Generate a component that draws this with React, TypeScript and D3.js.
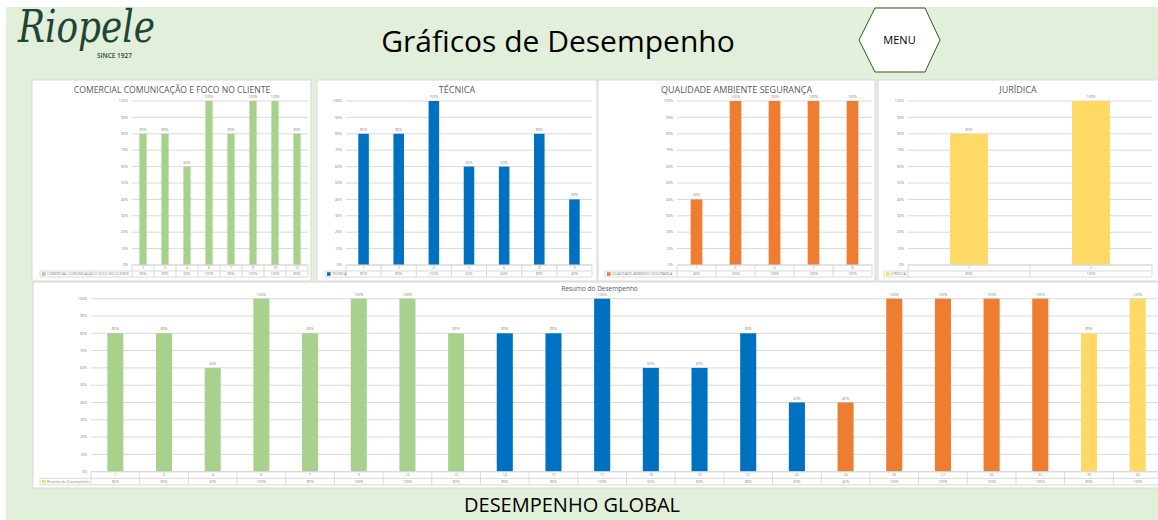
import React from 'react';
import * as d3 from 'd3';

// data
const comercialCats = ['1', '3', '4', '6', '7', '9', '10', '12'];
const comercialVals = [0.8, 0.8, 0.6, 1, 0.8, 1, 1, 0.8];

const tecnicaCats = ['1', '2', '4', '5', '6', '8', '9'];
const tecnicaVals = [0.8, 0.8, 1, 0.6, 0.6, 0.8, 0.4];

const qualidadeCats = ['1', '3', '4', '7', '8'];
const qualidadeVals = [0.4, 1, 1, 1, 1];

const juridicaCats = ['1', '2'];
const juridicaVals = [0.8, 1];

const resumoCats = ['1', '3', '4', '6', '7', '9', '10', '12', '14', '15', '17', '18', '19', '21', '22', '24', '26', '27', '30', '31', '33', '34'];
const resumoVals = [0.8, 0.8, 0.6, 1, 0.8, 1, 1, 0.8, 0.8, 0.8, 1, 0.6, 0.6, 0.8, 0.4, 0.4, 1, 1, 1, 1, 0.8, 1];
const resumoArea = ['com', 'com', 'com', 'com', 'com', 'com', 'com', 'com', 'tec', 'tec', 'tec', 'tec', 'tec', 'tec', 'tec', 'qas', 'qas', 'qas', 'qas', 'qas', 'jur', 'jur'];

const areaColor = {
  com: '#A9D18E',
  tec: '#0070C0',
  qas: '#ED7D31',
  jur: '#FFD966',
};

const pct = d3.format('.0%');
const FONT = '"Open Sans", "Liberation Sans", sans-serif';
const GRID = '#D9D9D9';
const LABEL = '#7F7F7F';

const ChartPanel = (props) => {
  const { box, plot, title, titleY, titleSize, cats, vals, colors, legend, legendColor, legendLeft, rowH, barRatio, fs } = props;
  const inner = 1 - barRatio;
  const x = d3.scaleBand().domain(cats).range([plot.left, plot.right]).paddingInner(inner).paddingOuter(inner / 2);
  const y = d3.scaleLinear().domain([0, 1]).range([plot.bottom, plot.top]);
  const step = x.step();
  const bounds = cats.map((c) => x(c) - (step * inner) / 2);
  bounds.push(plot.right);
  const r1 = plot.bottom + rowH;
  const r2 = plot.bottom + 2 * rowH;

  return (
    <g>
      <rect x={box.x} y={box.y} width={box.w} height={box.h} fill="#fff" stroke={GRID} strokeWidth="1" />
      <text x={(plot.left + plot.right) / 2 + (props.titleDx || 0)} y={titleY} textAnchor="middle" fontSize={titleSize} fill="#595959" fontFamily={FONT}>
        {title}
      </text>
      {y.ticks(10).map((t) => (
        <g key={t}>
          <line x1={plot.left} x2={plot.right} y1={y(t)} y2={y(t)} stroke={GRID} strokeWidth="1" />
          <text x={plot.left - 4} y={y(t) + fs * 0.35} textAnchor="end" fontSize={fs} fill={LABEL} fontFamily={FONT}>
            {pct(t)}
          </text>
        </g>
      ))}
      {cats.map((c, i) => (
        <g key={c}>
          <rect x={x(c)} y={y(vals[i])} width={x.bandwidth()} height={plot.bottom - y(vals[i])} fill={colors[i]} />
          <text x={x(c) + x.bandwidth() / 2} y={y(vals[i]) - 3} textAnchor="middle" fontSize={fs} fill={LABEL} fontFamily={FONT}>
            {pct(vals[i])}
          </text>
          <text x={x(c) + x.bandwidth() / 2} y={plot.bottom + rowH * 0.5 + fs * 0.35} textAnchor="middle" fontSize={fs} fill={LABEL} fontFamily={FONT}>
            {c}
          </text>
          <text x={x(c) + x.bandwidth() / 2} y={r1 + rowH * 0.5 + fs * 0.35} textAnchor="middle" fontSize={fs} fill={LABEL} fontFamily={FONT}>
            {pct(vals[i])}
          </text>
        </g>
      ))}
      {/* data table */}
      <line x1={plot.left} x2={plot.right} y1={plot.bottom} y2={plot.bottom} stroke={GRID} />
      <line x1={legendLeft} x2={plot.right} y1={r1} y2={r1} stroke={GRID} />
      <line x1={legendLeft} x2={plot.right} y1={r2} y2={r2} stroke={GRID} />
      <line x1={legendLeft} x2={legendLeft} y1={r1} y2={r2} stroke={GRID} />
      {bounds.map((b, i) => (
        <line key={i} x1={b} x2={b} y1={plot.bottom} y2={r2} stroke={GRID} />
      ))}
      <rect x={legendLeft + 2} y={r1 + rowH / 2 - 1.8} width="3.6" height="3.6" fill={legendColor} />
      <text x={legendLeft + 7} y={r1 + rowH * 0.5 + fs * 0.35} fontSize={fs} fill={LABEL} fontFamily={FONT}>
        {legend}
      </text>
    </g>
  );
};

const App = () => {
  const W = 1158;
  const H = 520;
  const top = { top: 101, bottom: 265 };

  return (
    <svg width={W} height={H} style={{ position: 'absolute', left: 0, top: 0 }}>
      <rect x="0" y="0" width={W} height={H} fill="#fff" />
      <rect x="6" y="7" width={W - 6} height={H - 7} fill="#E2EFDA" />

      {/* logo */}
      <text x="18" y="42" fontSize="44" fontStyle="italic" fontFamily='"DejaVu Serif", serif' fill="#1E4636" textLength="137" lengthAdjust="spacingAndGlyphs">
        Riopele
      </text>
      <text x="97" y="58" fontSize="6.5" fontFamily={FONT} fill="#1E4636" fontWeight="600">
        SINCE 1927
      </text>

      <text x="558" y="52" textAnchor="middle" fontSize="30" fontFamily={FONT} fill="#000">
        Gráficos de Desempenho
      </text>

      <polygon points="859,40 875,8 925,8 940,40 925,72 875,72" fill="#fff" stroke="#38571A" strokeWidth="1" />
      <text x="899.5" y="44" textAnchor="middle" fontSize="11" fontFamily={FONT} fill="#000">
        MENU
      </text>

      <ChartPanel
        box={{ x: 32, y: 80, w: 279, h: 201 }}
        plot={{ left: 132, right: 308, ...top }}
        title="COMERCIAL COMUNICAÇÃO E FOCO NO CLIENTE"
        titleDx={-48}
        titleY={93}
        titleSize={8.6}
        cats={comercialCats}
        vals={comercialVals}
        colors={comercialCats.map(() => areaColor.com)}
        legend="COMERCIAL COMUNICAÇÃO E FOCO NO CLIENTE"
        legendColor={areaColor.com}
        legendLeft={40}
        rowH={6}
        barRatio={0.33}
        fs={3.6}
      />
      <ChartPanel
        box={{ x: 317, y: 80, w: 280, h: 201 }}
        plot={{ left: 346, right: 592, ...top }}
        title="TÉCNICA"
        titleDx={-12}
        titleY={93}
        titleSize={9}
        cats={tecnicaCats}
        vals={tecnicaVals}
        colors={tecnicaCats.map(() => areaColor.tec)}
        legend="TÉCNICA"
        legendColor={areaColor.tec}
        legendLeft={325}
        rowH={6}
        barRatio={0.3}
        fs={3.6}
      />
      <ChartPanel
        box={{ x: 598, y: 80, w: 277, h: 201 }}
        plot={{ left: 677, right: 872, ...top }}
        title="QUALIDADE  AMBIENTE  SEGURANÇA"
        titleDx={-38}
        titleY={93}
        titleSize={9}
        cats={qualidadeCats}
        vals={qualidadeVals}
        colors={qualidadeCats.map(() => areaColor.qas)}
        legend="QUALIDADE AMBIENTE SEGURANÇA"
        legendColor={areaColor.qas}
        legendLeft={605}
        rowH={6}
        barRatio={0.3}
        fs={3.6}
      />
      <ChartPanel
        box={{ x: 878, y: 80, w: 285, h: 201 }}
        plot={{ left: 908, right: 1152, ...top }}
        title="JURÍDICA"
        titleDx={-12}
        titleY={93}
        titleSize={9}
        cats={juridicaCats}
        vals={juridicaVals}
        colors={juridicaCats.map(() => areaColor.jur)}
        legend="JURÍDICA"
        legendColor={areaColor.jur}
        legendLeft={884}
        rowH={6}
        barRatio={0.31}
        fs={3.6}
      />
      <ChartPanel
        box={{ x: 33, y: 282, w: 1130, h: 206 }}
        plot={{ left: 91, right: 1162, top: 298.7, bottom: 471.7 }}
        title="Resumo do Desempenho"
        titleDx={-27}
        titleY={291}
        titleSize={6.5}
        cats={resumoCats}
        vals={resumoVals}
        colors={resumoArea.map((a) => areaColor[a])}
        legend="Resumo do Desempenho"
        legendColor={areaColor.jur}
        legendLeft={40}
        rowH={6.6}
        barRatio={0.33}
        fs={3.6}
      />

      <text x="572" y="512" textAnchor="middle" fontSize="20" fontFamily={FONT} fill="#000">
        DESEMPENHO GLOBAL
      </text>
    </svg>
  );
};

export default App;
